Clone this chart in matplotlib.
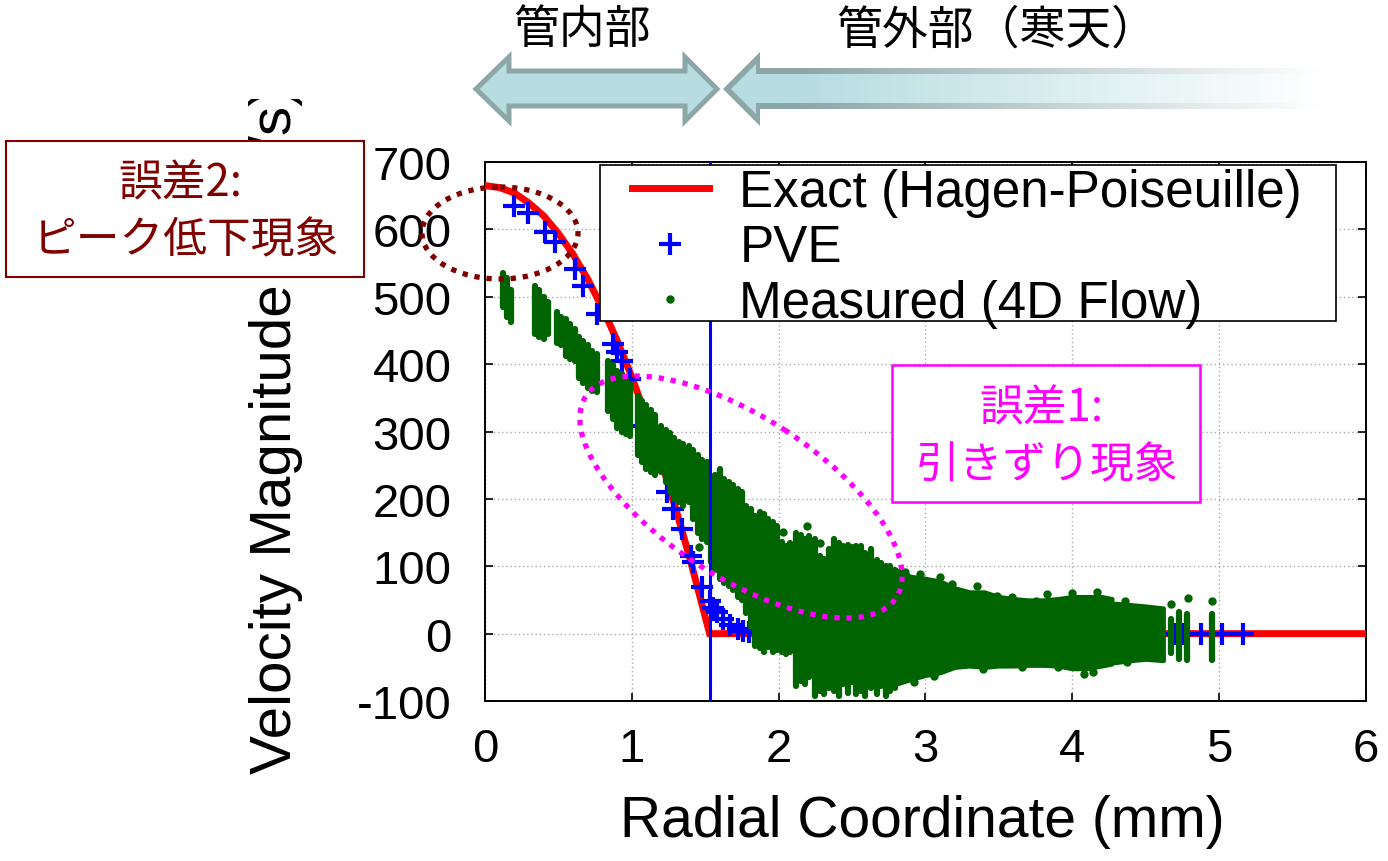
import numpy as np
import matplotlib
matplotlib.use("Agg")
import matplotlib.pyplot as plt
from matplotlib.patches import Ellipse, Rectangle, Polygon
from matplotlib.lines import Line2D

plt.rcParams['font.family'] = ['Liberation Sans', 'Noto Sans CJK JP']
plt.rcParams['axes.unicode_minus'] = False

# exact profile (Hagen-Poiseuille)
exact_r = [0.0, 0.1, 0.2, 0.3, 0.4, 0.5, 0.6, 0.7, 0.8, 0.9, 1.0, 1.1, 1.2, 1.3, 1.4, 1.53, 6.0]
exact_v = [665, 662, 654, 639, 620, 594, 563, 526, 483, 435, 381, 321, 256, 185, 108, 0, 0]

# PVE points
pve_r = [0.20, 0.29, 0.41, 0.48, 0.61, 0.67, 0.76, 0.87, 0.90, 0.93, 0.99, 1.07, 1.24, 1.28,
         1.34, 1.40, 1.42, 1.48, 1.53, 1.55, 1.58, 1.62, 1.67, 1.72, 1.76, 1.80, 1.84, 1.89,
         2.01, 2.30, 2.64, 3.00, 3.50, 4.00, 4.27, 4.70, 4.76, 4.88, 5.02, 5.16]
pve_v = [634, 625, 596, 582, 541, 516, 474, 430, 418, 404, 378, 308, 210, 185,
         155, 115, 106, 69, 49, 38, 32, 22, 13, 7, 4, 3, 2, 1,
         0, 0, 0, 0, 0, 0, 0, 0, 0, 0, 0, 0]

# measured (4D flow): vertical streaks of points, x / low / high
meas_x = [0.12, 0.15, 0.18, 0.34, 0.37, 0.40, 0.43, 0.49, 0.52, 0.55, 0.58, 0.61, 0.64, 0.67,
          0.70, 0.73, 0.76, 0.84, 0.87, 0.90, 0.93, 0.96, 0.99, 1.04, 1.07, 1.10, 1.13, 1.16,
          1.20, 1.23, 1.26, 1.29, 1.32, 1.35, 1.39, 1.42, 1.45, 1.48, 1.51, 1.54, 1.57, 1.60,
          1.63, 1.66, 1.69, 1.72, 1.75, 1.78, 1.81, 1.84, 1.87, 1.90, 1.93, 1.96, 1.99, 2.02,
          2.05, 2.08, 2.12, 2.15, 2.18, 2.21, 2.25, 2.28, 2.31, 2.34, 2.38, 2.41, 2.44, 2.47,
          2.50, 2.53, 2.56, 2.59, 2.63, 2.67, 2.70, 2.73, 2.76, 2.79,
          4.67, 4.73, 4.78, 4.95]
meas_lo = [485, 470, 462, 445, 440, 437, 445, 432, 428, 412, 408, 405, 380, 372,
           365, 360, 358, 330, 318, 305, 300, 296, 293, 265, 255, 245, 240, 236,
           240, 225, 210, 200, 195, 190, 195, 170, 150, 140, 136, 106, 95, 81,
           75, 70, 65, 55, 50, 30, 10, -18, -22, -27, -20, -27, -25, -27,
           -30, -27, -78, -70, -75, -65, -92, -85, -90, -80, -85, -92, -75, -88,
           -72, -90, -85, -92, -80, -90, -78, -92, -85, -80,
           -28, -37, -39, -39]
meas_hi = [535, 528, 510, 516, 510, 500, 492, 477, 470, 467, 460, 452, 441, 435,
           428, 420, 415, 404, 398, 390, 385, 378, 370, 352, 345, 340, 332, 325,
           308, 302, 298, 290, 285, 282, 279, 272, 265, 258, 255, 226, 235, 244,
           230, 225, 220, 215, 210, 190, 185, 175, 180, 178, 170, 165, 160, 136,
           130, 134, 150, 146, 140, 145, 140, 115, 111, 125, 140, 135, 130, 132,
           128, 130, 130, 120, 125, 110, 105, 100, 100, 95,
           22, 32, 29, 29]

# dense part of the measured cloud (outer tube)
band_x = [2.80, 2.90, 3.00, 3.10, 3.20, 3.30, 3.40, 3.50, 3.60, 3.70, 3.80, 3.90, 4.00, 4.10, 4.20, 4.27]
band_hi = [95, 85, 82, 78, 68, 62, 62, 55, 52, 50, 50, 52, 55, 55, 55, 52]
band_lo = [-75, -68, -62, -58, -50, -48, -50, -48, -48, -47, -47, -48, -52, -52, -48, -45]
band2_x = [4.29, 4.40, 4.50, 4.62]
band2_hi = [45, 43, 41, 38]
band2_lo = [-43, -40, -38, -40]

# isolated measured points
out_x = [1.46, 2.03, 2.19, 2.28, 2.86, 2.96, 3.10, 3.18, 3.35, 3.49, 3.59, 3.75, 3.83, 4.00,
         4.17, 4.36, 2.78, 2.92, 3.06, 3.39, 3.66, 3.90, 4.08, 4.14, 4.37, 4.67, 4.79, 4.95]
out_v = [128, 151, 160, 134, 91, 88, 84, 74, 71, 56, 54, 48, 59, 60,
         62, 48, -72, -72, -63, -53, -50, -50, -60, -57, -42, 44, 53, 48]

xticks = [0, 1, 2, 3, 4, 5, 6]
yticks = [-100, 0, 100, 200, 300, 400, 500, 600, 700]
legend_labels = ['Exact (Hagen-Poiseuille)', 'PVE', 'Measured (4D Flow)']

green = '#006400'

fig = plt.figure(figsize=(13.88, 8.62), dpi=100)
ax = fig.add_axes([0.3494, 0.1856, 0.6347, 0.6253])

ax.plot(exact_r, exact_v, color='red', lw=5, zorder=3, solid_joinstyle='miter')
ax.plot(pve_r, pve_v, linestyle='none', marker='+', color='blue', ms=16, mew=3, zorder=4)
lc = ax.vlines(meas_x, meas_lo, meas_hi, color=green, lw=4.5, zorder=5)
lc.set_capstyle('round')
ax.fill_between(band_x, band_lo, band_hi, color=green, lw=3, edgecolor=green, zorder=5)
ax.fill_between(band2_x, band2_lo, band2_hi, color=green, lw=3, edgecolor=green, zorder=5)
ax.plot(out_x, out_v, linestyle='none', marker='o', color=green, ms=5, zorder=5)
ax.axvline(1.53, color='blue', lw=2.2, zorder=6)

ax.set_xlim(0, 6)
ax.set_ylim(-100, 700)
ax.set_xticks(xticks)
ax.set_yticks(yticks)
ax.tick_params(direction='in', length=6, width=1.2, top=True, right=True, labelsize=34)
ax.tick_params(axis='x', pad=19)
ax.tick_params(axis='y', pad=24)
ax.grid(True, color='#aaaaaa', linestyle=(0, (1, 2)), lw=1)
ax.set_axisbelow(True)
for s in ax.spines.values():
    s.set_linewidth(1.4)

ax.set_xlabel('Radial Coordinate (mm)', fontsize=41, va='center')
ax.xaxis.set_label_coords(0.496, -0.2226)
ax.set_ylabel('Velocity Magnitude (mm/s)', fontsize=42, va='center')
ax.yaxis.set_label_coords(-0.237, 0.505)

# overlay in pixel coordinates for legend and annotations
ov = fig.add_axes([0, 0, 1, 1], zorder=5)
ov.axis('off')

ov.add_patch(Rectangle((200, 0), 270, 100, facecolor='white', edgecolor='none', zorder=1))

# top arrows
edge_c = np.array([0x8D, 0xA7, 0xA9]) / 255
fill_c = np.array([0xB7, 0xDD, 0xE1]) / 255
left_arrow = [(476, 90), (509, 58), (509, 72), (685, 72), (685, 58), (717, 90),
              (685, 122), (685, 107), (509, 107), (509, 122)]
ov.add_patch(Polygon(left_arrow, closed=True, facecolor=fill_c, edgecolor=edge_c,
                     lw=3.6, joinstyle='miter', zorder=2))

gx = np.linspace(720, 1340, 400)
t = np.clip((gx - 800) / (1320 - 800), 0, 1)
for col, pts in [(edge_c, [(723, 90), (760, 53), (760, 69), (1340, 69), (1340, 110), (760, 110), (760, 127)]),
                 (fill_c, [(731, 90), (756, 65), (756, 75), (1340, 75), (1340, 104), (756, 104), (756, 115)])]:
    img = (col[None, :] * (1 - t[:, None]) + t[:, None])[None, :, :]
    clip = Polygon(pts, closed=True, facecolor='none', edgecolor='none')
    ov.add_patch(clip)
    im = ov.imshow(img, extent=(720, 1340, 130, 50), aspect='auto', zorder=2, interpolation='bilinear')
    im.set_clip_path(clip)
ov.set_xlim(0, 1388)
ov.set_ylim(862, 0)

ov.text(582, 30, '管内部', fontsize=33, ha='center', va='center', family='Noto Sans CJK JP')
ov.text(997, 30, '管外部（寒天）', fontsize=33, ha='center', va='center', family='Noto Sans CJK JP')

# legend with its own frame
ov.add_patch(Rectangle((600, 166), 736, 156, facecolor='white', edgecolor='black', lw=1.2, zorder=6))
handles = [Line2D([], [], color='red', lw=5),
           Line2D([], [], linestyle='none', marker='+', color='blue', ms=16, mew=3),
           Line2D([], [], linestyle='none', marker='o', color=green, ms=5)]
leg = ov.legend(handles, legend_labels, loc='center left', bbox_to_anchor=(632, 249),
                bbox_transform=ov.transData, fontsize=36.8, frameon=False,
                borderaxespad=0, borderpad=0, handlelength=1.5, handletextpad=0.6,
                labelspacing=0.13)
leg.set_zorder(7)

# error annotations
ov.add_patch(Ellipse((500, 234), 156, 92, facecolor='none', edgecolor='#800000', lw=3.8,
                     linestyle=(0, (1, 1.3)), zorder=3))
ov.add_patch(Ellipse((741, 498), 370, 160, angle=33, facecolor='none', edgecolor='#ff00ff',
                     lw=3.8, linestyle=(0, (1, 1.3)), zorder=3))

ov.add_patch(Rectangle((6, 142), 358, 136, facecolor='white', edgecolor='#800000', lw=1.5, zorder=4))
ov.text(180, 183, '誤差2:', fontsize=31.5, color='#800000', ha='center', va='center',
        family='Noto Sans CJK JP', zorder=5)
ov.text(186, 240, 'ピーク低下現象', fontsize=31.5, color='#800000', ha='center', va='center',
        family='Noto Sans CJK JP', zorder=5)

ov.add_patch(Rectangle((892, 366), 308, 137, facecolor='white', edgecolor='#ff00ff', lw=1.8, zorder=4))
ov.text(1041, 408, '誤差1:', fontsize=31.5, color='#ff00ff', ha='center', va='center',
        family='Noto Sans CJK JP', zorder=5)
ov.text(1047, 465, '引きずり現象', fontsize=31.5, color='#ff00ff', ha='center', va='center',
        family='Noto Sans CJK JP', zorder=5)

fig.savefig('out.png', dpi=100)
